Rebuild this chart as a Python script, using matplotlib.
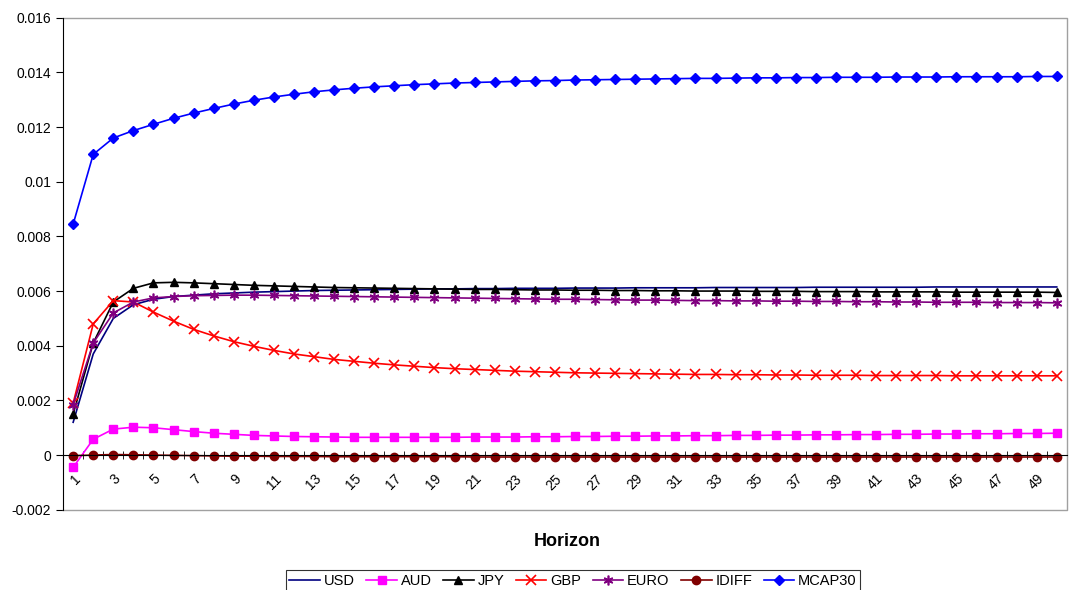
import numpy as np
import matplotlib.pyplot as plt

plt.rcParams['font.family'] = ['Liberation Sans', 'DejaVu Sans']

horizon = list(range(1, 51))

usd = [0.00120, 0.00370, 0.00500, 0.00550, 0.00570, 0.00580, 0.00585, 0.00590, 0.00593, 0.00596,
       0.00598, 0.00600, 0.00602, 0.00603, 0.00604, 0.00605, 0.00606, 0.00607, 0.00608, 0.00608,
       0.00609, 0.00609, 0.00610, 0.00610, 0.00610, 0.00611, 0.00611, 0.00611, 0.00612, 0.00612,
       0.00612, 0.00612, 0.00613, 0.00613, 0.00613, 0.00613, 0.00613, 0.00614, 0.00614, 0.00614,
       0.00614, 0.00614, 0.00614, 0.00615, 0.00615, 0.00615, 0.00615, 0.00615, 0.00615, 0.00615]
aud = [-0.00045, 0.00058, 0.00095, 0.00102, 0.00100, 0.00093, 0.00086, 0.00080, 0.00076, 0.00072,
       0.00070, 0.00068, 0.00067, 0.00066, 0.00065, 0.00065, 0.00065, 0.00065, 0.00065, 0.00065,
       0.00066, 0.00066, 0.00066, 0.00067, 0.00067, 0.00068, 0.00068, 0.00069, 0.00069, 0.00070,
       0.00070, 0.00071, 0.00071, 0.00072, 0.00072, 0.00073, 0.00073, 0.00074, 0.00074, 0.00075,
       0.00075, 0.00076, 0.00076, 0.00077, 0.00077, 0.00078, 0.00078, 0.00079, 0.00079, 0.00080]
jpy = [0.00150, 0.00410, 0.00560, 0.00610, 0.00630, 0.00632, 0.00630, 0.00627, 0.00624, 0.00621,
       0.00619, 0.00617, 0.00615, 0.00613, 0.00612, 0.00611, 0.00610, 0.00609, 0.00608, 0.00607,
       0.00606, 0.00606, 0.00605, 0.00604, 0.00604, 0.00603, 0.00603, 0.00602, 0.00602, 0.00601,
       0.00601, 0.00600, 0.00600, 0.00600, 0.00599, 0.00599, 0.00599, 0.00598, 0.00598, 0.00598,
       0.00597, 0.00597, 0.00597, 0.00597, 0.00596, 0.00596, 0.00596, 0.00596, 0.00596, 0.00595]
gbp = [0.00190, 0.00480, 0.00565, 0.00560, 0.00523, 0.00490, 0.00460, 0.00436, 0.00415, 0.00398,
       0.00383, 0.00370, 0.00360, 0.00350, 0.00343, 0.00336, 0.00330, 0.00325, 0.00320, 0.00316,
       0.00313, 0.00310, 0.00307, 0.00305, 0.00303, 0.00301, 0.00300, 0.00299, 0.00298, 0.00297,
       0.00296, 0.00295, 0.00295, 0.00294, 0.00294, 0.00293, 0.00293, 0.00292, 0.00292, 0.00292,
       0.00291, 0.00291, 0.00291, 0.00291, 0.00290, 0.00290, 0.00290, 0.00290, 0.00290, 0.00290]
euro = [0.00185, 0.00410, 0.00520, 0.00560, 0.00575, 0.00580, 0.00583, 0.00584, 0.00585, 0.00585,
        0.00584, 0.00583, 0.00582, 0.00581, 0.00580, 0.00579, 0.00578, 0.00577, 0.00576, 0.00575,
        0.00574, 0.00573, 0.00572, 0.00571, 0.00570, 0.00570, 0.00569, 0.00568, 0.00567, 0.00567,
        0.00566, 0.00565, 0.00565, 0.00564, 0.00564, 0.00563, 0.00563, 0.00562, 0.00562, 0.00561,
        0.00561, 0.00560, 0.00560, 0.00559, 0.00559, 0.00559, 0.00558, 0.00558, 0.00558, 0.00557]
idiff = [-0.00002, 0.00000, 0.00002, 0.00001, 0.00000, -0.00001, -0.00002, -0.00003, -0.00004, -0.00004,
         -0.00005, -0.00005, -0.00005, -0.00006, -0.00006, -0.00006, -0.00006, -0.00006, -0.00006, -0.00006,
         -0.00007, -0.00007, -0.00007, -0.00007, -0.00007, -0.00007, -0.00007, -0.00007, -0.00007, -0.00007,
         -0.00007, -0.00007, -0.00007, -0.00007, -0.00007, -0.00007, -0.00007, -0.00007, -0.00007, -0.00007,
         -0.00007, -0.00007, -0.00007, -0.00007, -0.00007, -0.00007, -0.00007, -0.00007, -0.00007, -0.00007]
mcap30 = [0.00845, 0.01100, 0.01160, 0.01187, 0.01210, 0.01232, 0.01251, 0.01268, 0.01284, 0.01298,
          0.01310, 0.01320, 0.01329, 0.01336, 0.01342, 0.01347, 0.01351, 0.01355, 0.01358, 0.01361,
          0.01363, 0.01365, 0.01367, 0.01369, 0.01370, 0.01372, 0.01373, 0.01374, 0.01375, 0.01376,
          0.01377, 0.01378, 0.01378, 0.01379, 0.01380, 0.01380, 0.01381, 0.01381, 0.01382, 0.01382,
          0.01382, 0.01383, 0.01383, 0.01383, 0.01384, 0.01384, 0.01384, 0.01384, 0.01385, 0.01385]

fig = plt.figure(figsize=(10.7, 5.9), dpi=100)
ax = fig.add_axes([0.059, 0.136, 0.938, 0.834])

ms = 6
ax.plot(horizon, usd, '-', color='#000080', lw=1.2, label='USD')
ax.plot(horizon, aud, '-s', color='#FF00FF', lw=1.2, ms=ms, label='AUD')
ax.plot(horizon, jpy, '-^', color='black', lw=1.2, ms=ms, label='JPY')
ax.plot(horizon, gbp, '-x', color='#FF0000', lw=1.2, ms=7, mew=1.2, label='GBP')
ax.plot(horizon, euro, '-', color='#800080', lw=1.2, marker=(6, 2, 0), ms=7, mew=1.2, label='EURO')
ax.plot(horizon, idiff, '-o', color='#800000', lw=1.2, ms=ms, label='IDIFF')
ax.plot(horizon, mcap30, '-D', color='#0000FF', lw=1.2, ms=5.5, label='MCAP30')

ax.set_xlim(0.5, 50.5)
ax.set_ylim(-0.002, 0.016)
ax.set_yticks(np.arange(-0.002, 0.0161, 0.002))
ax.set_yticklabels(['-0.002', '0', '0.002', '0.004', '0.006', '0.008', '0.01', '0.012', '0.014', '0.016'])

# category axis crosses at zero
ax.spines['bottom'].set_position(('data', 0))
ax.spines['bottom'].set_color('black')
ax.spines['left'].set_color('black')
ax.spines['top'].set_visible(False)
ax.spines['right'].set_visible(False)
ax.plot([0, 1, 1, 0], [1, 1, 0, 0], color='#a0a0a0', lw=1, transform=ax.transAxes, clip_on=False)

ax.set_xticks(range(1, 50, 2))
ax.set_xticklabels([str(h) for h in range(1, 50, 2)], rotation=45, ha='right', rotation_mode='anchor')
ax.set_xticks(np.arange(0.5, 51, 1), minor=True)
ax.tick_params(axis='x', which='major', length=0, pad=12, labelsize=10)
ax.tick_params(axis='x', which='minor', direction='inout', length=6)
ax.tick_params(axis='y', direction='out', length=5, labelsize=10)

fig.text(0.53, 0.083, 'Horizon', ha='center', va='center', fontsize=13, fontweight='bold')

leg = fig.legend(loc='upper center', bbox_to_anchor=(573 / 1070, 1 - 570 / 590), ncol=7,
                 fontsize=10.5, frameon=True, fancybox=False, edgecolor='black',
                 handlelength=2.1, handletextpad=0.25, columnspacing=0.8, borderpad=0.25,
                 borderaxespad=0)
leg.get_frame().set_linewidth(0.8)

fig.savefig('out.png', dpi=100)
